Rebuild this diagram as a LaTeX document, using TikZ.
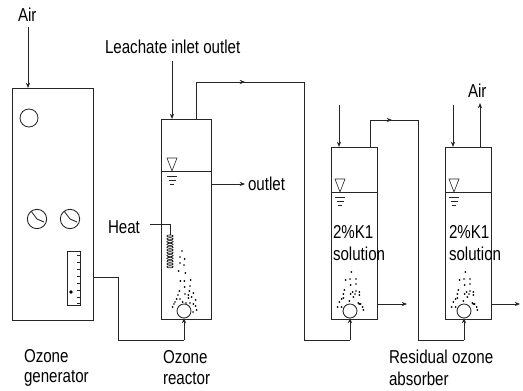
\documentclass[tikz,border=0pt]{standalone}
\usepackage{fontspec}
\setmainfont[FakeStretch=0.81]{Liberation Sans}
\usetikzlibrary{arrows.meta}
\tikzset{
  x=0.75pt,y=-0.75pt,
  line/.style={draw=black!85,line width=0.65pt},
  arr/.style={line,-{Stealth[length=4pt,width=3.2pt]}},
  vessel/.style={line,rectangle,inner sep=0,outer sep=0},
  ball/.style={line,circle,inner sep=0,outer sep=0},
  lbl/.style={inner sep=0,outer sep=0,anchor=west,font=\fontsize{14pt}{16pt}\selectfont,text=black},
  tick/.style={draw=black!85,line width=0.45pt}
}
\newcommand{\levelmark}[2]{% apex x, water y
  \draw[tick] (#1,#2) -- (#1-5,#2-13) -- (#1+5,#2-13) -- cycle;
  \draw[tick] (#1-5,#2+5) -- (#1+5,#2+5);
  \draw[tick] (#1-3.5,#2+9) -- (#1+3.5,#2+9);
  \draw[tick] (#1-2,#2+13) -- (#1+2,#2+13);}
\newcommand{\bubbles}[3]{% cx, cy, list
  \foreach \a/\b in {#3}{\fill[black] ({#1+\a/3},{#2+\b}) circle[radius=0.7pt];}}
\begin{document}
\begin{tikzpicture}
\useasboundingbox (0,0) rectangle (523,391);
% vessels
\node[vessel,minimum width=60.75pt,minimum height=174pt,anchor=north west] (gen) at (12,88) {};
\node[vessel,minimum width=37.5pt,minimum height=150pt,anchor=north west] (reac) at (161.5,119) {};
\node[vessel,minimum width=34.5pt,minimum height=129pt,anchor=north west] (absa) at (331,147) {};
\node[vessel,minimum width=34.5pt,minimum height=129pt,anchor=north west] (absb) at (445,147) {};
% generator details
\node[ball,minimum size=13.5pt] (lamp) at (29,118) {};
\node[ball,minimum size=14.5pt] (diala) at (37,219) {};
\node[ball,minimum size=14.5pt] (dialb) at (70,219) {};
\draw[line] (diala.center) -- (31,211) (diala.center) -- (44,222);
\draw[line] (dialb.center) -- (64,211) (dialb.center) -- (77,222);
\node[vessel,minimum width=10pt,minimum height=41pt,anchor=north west] (gauge) at (67.5,251) {};
\foreach \y in {255,262,269,276,283,290,297,303}{\draw[tick] (80.5,\y) -- (77,\y);}
\fill[black] (71,292) circle[radius=1.4pt];
% diffusers
\node[ball,minimum size=10.5pt] (difr) at (184,311) {};
\node[ball,minimum size=10.5pt] (difa) at (350,311) {};
\node[ball,minimum size=10.5pt] (difb) at (464,311) {};
% water levels
\draw[line] (reac.west |- 0,171) -- (reac.east |- 0,171);
\draw[line] (absa.west |- 0,192) -- (absa.east |- 0,192);
\draw[line] (absb.west |- 0,192) -- (absb.east |- 0,192);
\levelmark{172}{171}
\levelmark{340}{192}
\levelmark{454}{192}
% heater
\coordinate (hs) at (150,224);
\coordinate (hc) at (170,224);
\coordinate (hb) at (170,235);
\draw[line] (hs) -- (hc) -- (hb);
\foreach \y in {236,238.8,...,269}{\draw[black,line width=0.45pt] (170,\y) ellipse[x radius=2.4pt,y radius=0.8pt];}
% bubbles
\bubbles{184}{311}{-6/-60,-12/-54,2/-52,-12/-48,0/-46,-16/-40,4/-38,-11/-30,1/-30,20/-31,2/-24,18/-25,-14/-20,16/-20,28/-18,3/-17,13/-16,23/-14,13/-13,-18/-16,-22/-12,-12/-12,-27/-9,-4/-9,-34/-4,-30/-7,28/-7,35/-5,38/-1,27/1,6/-8,18/-8,35/-11}
\bubbles{350}{311}{4/-39,-13/-31,0/-32,18/-32,2/-26,18/-27,-17/-21,8/-19,18/-20,28/-19,-20/-17,2/-17,15/-17,28/-16,10/-14,-25/-12,-32/-9,-37/-4,-20/-13,-2/-10,25/-8,32/-7,38/-4,40/-1,-25/-4,28/-7}
\bubbles{464}{311}{4/-39,-13/-31,0/-32,18/-32,2/-26,18/-27,-17/-21,8/-19,18/-20,28/-19,-20/-17,2/-17,15/-17,28/-16,10/-14,-25/-12,-32/-9,-37/-4,-20/-13,-2/-10,25/-8,32/-7,38/-4,40/-1,-25/-4,28/-7}
% free-end coordinates and bends
\coordinate (airin) at (28,27);
\coordinate (leach) at (172,61);
\coordinate (inla) at (339,105);
\coordinate (inlb) at (453,105);
\coordinate (airout) at (480,103);
\coordinate (gas1) at (118,277);
\coordinate (gas2) at (118,340);
\coordinate (gas3) at (184,340);
\coordinate (r1) at (196,82);
\coordinate (r1m) at (245,82);
\coordinate (r2) at (304,82);
\coordinate (r3) at (304,340);
\coordinate (r4) at (350,340);
\coordinate (a1) at (370,120);
\coordinate (a1m) at (392,120);
\coordinate (a2) at (418,120);
\coordinate (a3) at (418,340);
\coordinate (a4) at (464,340);
\coordinate (outr) at (245,184);
\coordinate (outa) at (407,304);
\coordinate (outb) at (520,304);
% connectors
\draw[arr] (airin) -- (airin |- gen.north);
\draw[arr] (leach) -- (leach |- reac.north);
\draw[arr] (inla) -- (inla |- absa.north);
\draw[arr] (inlb) -- (inlb |- absb.north);
\draw[line] (gen.east |- gas1) -- (gas1) -- (gas2) -- (gas3);
\draw[arr] (gas3) -- (difr.south);
\draw[line] (reac.north -| r1) -- (r1) -- (r2) -- (r3) -- (r4);
\draw[arr] (r1) -- (r1m);
\draw[arr] (r4) -- (difa.south);
\draw[line] (absa.north -| a1) -- (a1) -- (a2) -- (a3) -- (a4);
\draw[arr] (a1) -- (a1m);
\draw[arr] (a4) -- (difb.south);
\draw[arr] (absb.north -| airout) -- (airout);
\draw[arr] (reac.east |- outr) -- (outr);
\draw[arr] (absa.east |- outa) -- (outa);
\draw[arr] (absb.east |- outb) -- (outb);
% labels
\node[lbl] (t1) at (18,15) {Air};
\node[lbl] (t2) at (105,47) {Leachate inlet outlet};
\node[lbl] (t3) at (248,184) {outlet};
\node[lbl] (t4) at (108,227) {Heat};
\node[lbl] (t5) at (468,91) {Air};
\node[lbl] (t6) at (333,232) {2\%K1};
\node[lbl] (t7) at (333,254) {solution};
\node[lbl] (t8) at (449,232) {2\%K1};
\node[lbl] (t9) at (449,254) {solution};
\node[lbl] (t10) at (24,356) {Ozone};
\node[lbl] (t11) at (24,378) {generator};
\node[lbl] (t12) at (163,357) {Ozone};
\node[lbl] (t13) at (163,379) {reactor};
\node[lbl] (t14) at (389,357) {Residual ozone};
\node[lbl] (t15) at (389,379) {absorber};
\end{tikzpicture}
\end{document}
